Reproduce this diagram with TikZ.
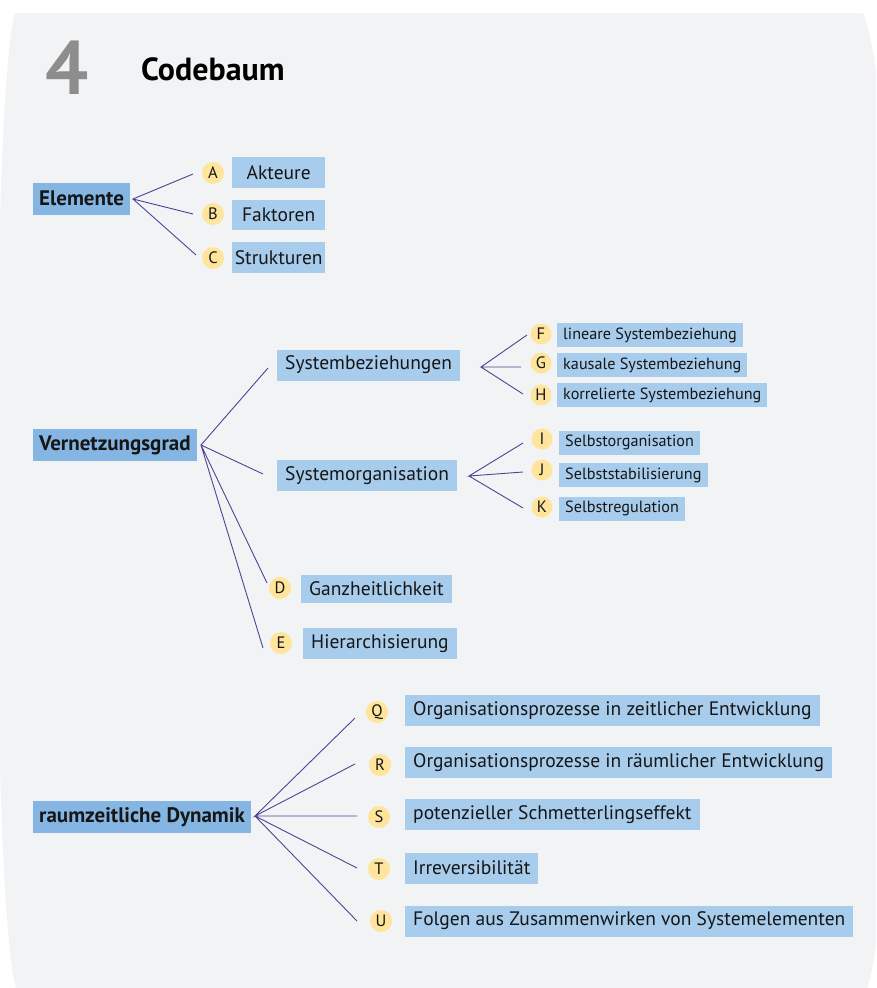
\documentclass[tikz,border=0pt]{standalone}
\usepackage{fontspec}
\setmainfont{PT Sans}
\usetikzlibrary{calc}
\definecolor{pagebg}{HTML}{F2F3F5}
\definecolor{itembox}{HTML}{A8CCEC}
\definecolor{headbox}{HTML}{85B6E3}
\definecolor{badgefill}{HTML}{FFE49B}
\definecolor{branch}{HTML}{4B4594}
\definecolor{numgray}{HTML}{8D8D8D}
\definecolor{ink}{HTML}{161616}

\begin{document}
\begin{tikzpicture}[x=1pt,y=-1pt,
  headbox/.style={fill=headbox, anchor=west, inner xsep=6pt, inner ysep=0pt,
    minimum height=32pt, text=ink, font=\fontsize{21}{23}\selectfont\bfseries},
  bigitem/.style={fill=itembox, anchor=west, inner xsep=8pt, inner ysep=0pt,
    minimum height=31pt, text=ink, font=\fontsize{19.5}{22}\selectfont},
  smallitem/.style={fill=itembox, anchor=west, inner xsep=6pt, inner ysep=0pt,
    minimum height=24pt, text=ink, font=\fontsize{16.2}{18}\selectfont},
  badge/.style={circle, fill=badgefill, minimum size=22pt, inner sep=0pt,
    text=ink, font=\fontsize{16.5}{18}\selectfont},
  smallbadge/.style={badge, minimum size=21pt},
  branchline/.style={draw=branch, line width=0.9pt}
]
% canvas and page shape
\useasboundingbox (0,0) rectangle (876,988);
\fill[white] (0,0) rectangle (876,988);
\begin{scope}
  \clip (0,0) rectangle (876,988);
  \fill[pagebg] (15,13) -- (863,13)
    .. controls (905,110) and (905,880) .. (867,988)
    -- (16,988)
    .. controls (-10,900) and (-10,100) .. (15,13) -- cycle;
\end{scope}

% title
\node[text=numgray, font=\fontsize{76}{76}\selectfont\bfseries] (num) at (67,68) {4};
\node[anchor=west, text=black, font=\fontsize{32}{34}\selectfont\bfseries, inner sep=0pt] (title) at (141,69) {Codebaum};

% ---------- Elemente ----------
\node[headbox, minimum width=94pt] (elem) at (33,198.5) {Elemente};
\node[badge] (bA) at (213,173) {A};
\node[badge] (bB) at (213,214) {B};
\node[badge] (bC) at (213,258) {C};
\node[bigitem, minimum width=93pt] (akt) at (232,172.5) {Akteure};
\node[bigitem, minimum width=93pt, minimum height=30pt] (fak) at (232,215) {Faktoren};
\node[bigitem, minimum width=93pt, inner xsep=2pt] (str) at (232,257.5) {Strukturen};

\coordinate (hubE) at (133,199);
\coordinate (eA) at (193,174);
\coordinate (eB) at (193,214);
\coordinate (eC) at (196,255);
\draw[branchline] (eA) -- (hubE) -- (eB) (hubE) -- (eC);

% ---------- Vernetzungsgrad ----------
\node[headbox] (vern) at (33,445) {Vernetzungsgrad};
\node[bigitem] (sbz) at (277,365) {Systembeziehungen};
\node[bigitem] (sorg) at (277,475.5) {Systemorganisation};
\node[badge] (bD) at (280,588) {D};
\node[badge] (bE) at (281,643) {E};
\node[bigitem, minimum height=28pt] (ganz) at (301,589) {Ganzheitlichkeit};
\node[bigitem] (hier) at (303,643.5) {Hierarchisierung};

\coordinate (hubV) at (201,445);
\coordinate (eSB) at (268,368);
\coordinate (eSO) at (263,474);
\coordinate (eD) at (267,583);
\coordinate (eE) at (263,648);
\draw[branchline] (eSB) -- (hubV) -- (eSO) (hubV) -- (eD) (hubV) -- (eE);

% Systembeziehungen
\node[smallbadge] (bF) at (541,334) {F};
\node[smallbadge] (bG) at (541,363) {G};
\node[smallbadge] (bH) at (541,395) {H};
\node[smallitem] (lin) at (557,335) {lineare Systembeziehung};
\node[smallitem] (kau) at (557,365) {kausale Systembeziehung};
\node[smallitem] (kor) at (557,395) {korrelierte Systembeziehung};

\coordinate (hubSB) at (481,367);
\coordinate (eF) at (527,335);
\coordinate (eG) at (521,367);
\coordinate (eH) at (523,394);
\draw[branchline] (eF) -- (hubSB) -- (eG) (hubSB) -- (eH);

% Systemorganisation
\node[smallbadge] (bI) at (542,439) {I};
\node[smallbadge] (bJ) at (542,470) {J};
\node[smallbadge] (bK) at (542,507) {K};
\node[smallitem] (sor) at (559,442.5) {Selbstorganisation};
\node[smallitem] (sst) at (559,475) {Selbststabilisierung};
\node[smallitem] (sre) at (559,508.5) {Selbstregulation};

\coordinate (hubSO) at (469,476);
\coordinate (eI) at (523,443);
\coordinate (eJ) at (523,472);
\coordinate (eK) at (523,508);
\draw[branchline] (eI) -- (hubSO) -- (eJ) (hubSO) -- (eK);

% ---------- raumzeitliche Dynamik ----------
\node[headbox] (dyn) at (33,817) {raumzeitliche Dynamik};
\node[badge] (bQ) at (377,712) {Q};
\node[badge] (bR) at (380,765) {R};
\node[badge] (bS) at (379,817) {S};
\node[badge] (bT) at (379,869) {T};
\node[badge] (bU) at (381,921) {U};
\node[bigitem] (oz) at (405,710.5) {Organisationsprozesse in zeitlicher Entwicklung};
\node[bigitem] (or) at (405,762.5) {Organisationsprozesse in räumlicher Entwicklung};
\node[bigitem] (pse) at (405,814.5) {potenzieller Schmetterlingseffekt};
\node[bigitem] (irr) at (405,868) {Irreversibilität};
\node[bigitem] (fol) at (405,921) {Folgen aus Zusammenwirken von Systemelementen};

\coordinate (hubR) at (255,816);
\coordinate (eQ) at (355,718);
\coordinate (eR) at (355,764);
\coordinate (eS) at (357,816);
\coordinate (eT) at (357,868);
\coordinate (eU) at (357,921);
\draw[branchline] (eQ) -- (hubR) -- (eR) (hubR) -- (eS) (hubR) -- (eT) (hubR) -- (eU);
\end{tikzpicture}
\end{document}
